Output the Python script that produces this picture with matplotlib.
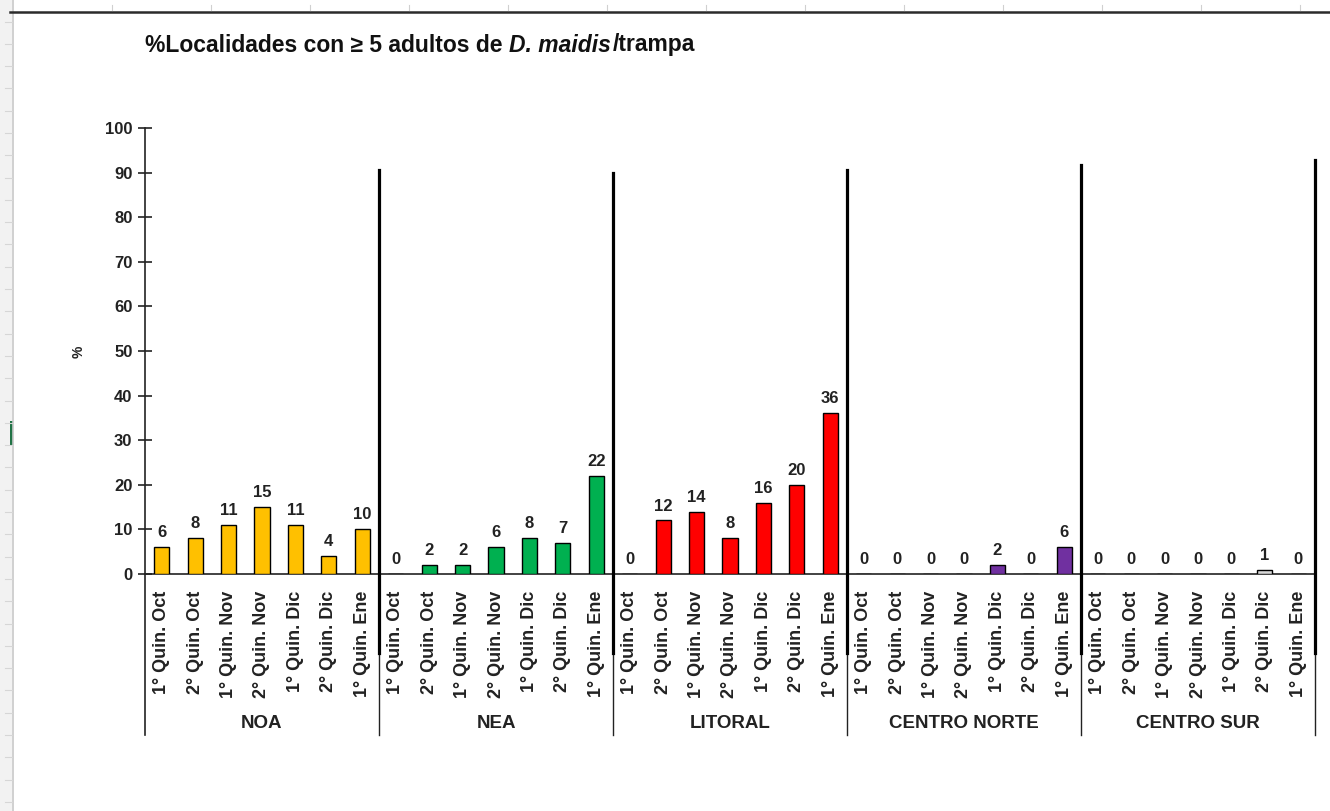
import numpy as np
import matplotlib
matplotlib.use("Agg")
import matplotlib.pyplot as plt
from matplotlib.lines import Line2D
from matplotlib.patches import Rectangle
import matplotlib.transforms as mtransforms

plt.rcParams['font.family'] = ['Liberation Sans', 'DejaVu Sans']

# ---------------- data ----------------
regions = ["NOA", "NEA", "LITORAL", "CENTRO NORTE", "CENTRO SUR"]
periods = ["1° Quin. Oct", "2° Quin. Oct", "1° Quin. Nov", "2° Quin. Nov",
           "1° Quin. Dic", "2° Quin. Dic", "1° Quin. Ene"]
noa = [6, 8, 11, 15, 11, 4, 10]
nea = [0, 2, 2, 6, 8, 7, 22]
litoral = [0, 12, 14, 8, 16, 20, 36]
centro_norte = [0, 0, 0, 0, 2, 0, 6]
centro_sur = [0, 0, 0, 0, 0, 1, 0]
region_colors = ["#FFC000", "#00B050", "#FF0000", "#7030A0", "#D9D9D9"]
separator_tops = [90.6, 89.9, 90.6, 91.7, 92.8]

series = [noa, nea, litoral, centro_norte, centro_sur]

W, H = 1330, 811
fig = plt.figure(figsize=(W / 100, H / 100), dpi=100)
fig.patch.set_facecolor("white")

# ---------- spreadsheet background remnants ----------
bg = fig.add_axes([0, 0, 1, 1], zorder=-10)
bg.set_xlim(0, W)
bg.set_ylim(H, 0)
bg.axis("off")
bg.add_patch(Rectangle((0, 0), 12, H, color="#F2F2F2", lw=0))
bg.plot([12.5, 12.5], [0, H], color="#C8C8C8", lw=1.2)
for yy in np.arange(21.5, H, 22.3):
    bg.plot([5, 12], [yy, yy], color="#D6D6D6", lw=0.8)
bg.add_patch(Rectangle((10, 421), 3, 24, color="#217346", lw=0))
bg.plot([10, W], [11.5, 11.5], color="#2B2B2B", lw=1.8)
for xx in np.arange(112, W, 99):
    bg.plot([xx, xx], [5, 10], color="#D0D0D0", lw=0.8)

# ---------- main axes ----------
left_px, right_px, top_px, bot_px = 145, 1315, 128, 574
ax = fig.add_axes([left_px / W, 1 - bot_px / H,
                   (right_px - left_px) / W, (bot_px - top_px) / H])
n_per = len(periods)
n_tot = n_per * len(regions)
ax.set_xlim(-0.5, n_tot - 0.5)
ax.set_ylim(0, 100)

x_all = np.arange(n_tot)
vals_all = []
cols_all = []
for vals, c in zip(series, region_colors):
    vals_all += vals
    cols_all += [c] * len(vals)

ax.bar(x_all, vals_all, width=0.45, color=cols_all, edgecolor="black", linewidth=1.0, zorder=3)
for x, v in zip(x_all, vals_all):
    ax.annotate(f"{v:g}", (x, v), xytext=(0, 5), textcoords="offset points",
                ha="center", va="bottom", fontsize=12, fontweight="bold", color="#222222")

for s in ["top", "right"]:
    ax.spines[s].set_visible(False)
ax.spines["left"].set_linewidth(1.2)
ax.spines["bottom"].set_linewidth(1.2)
ax.spines["left"].set_color("#222222")
ax.spines["bottom"].set_color("#222222")

ax.set_yticks(np.arange(0, 101, 10))
ax.tick_params(axis="y", direction="inout", length=10, width=1.2, labelsize=12, pad=4, colors="#222222")
for lb in ax.get_yticklabels():
    lb.set_fontweight("bold")

ax.set_xticks(x_all)
ax.set_xticklabels(periods * len(regions), rotation=90, fontsize=13, fontweight="bold", color="#222222")
ax.tick_params(axis="x", length=0, pad=12)

ax.set_ylabel("%", fontsize=10, fontweight="bold", color="#222222")
ax.yaxis.set_label_coords((86 - left_px) / (right_px - left_px), (bot_px - 352) / (bot_px - top_px))

trans = mtransforms.blended_transform_factory(ax.transData, ax.transAxes)
# thin category-group dividers
y_low = -(735 - bot_px) / (bot_px - top_px)
ax.add_line(Line2D([-0.5, -0.5], [y_low, 0], transform=trans, color="#222222", lw=1.2, clip_on=False))
for i in range(len(regions)):
    xb = (i + 1) * n_per - 0.5
    ax.add_line(Line2D([xb, xb], [y_low, 0], transform=trans, color="#222222", lw=1.0, clip_on=False))
    # thick separator drawn over the chart
    y_thick_bottom = -(653 - bot_px) / (bot_px - top_px) * 100
    ax.add_line(Line2D([xb, xb], [y_thick_bottom, separator_tops[i]], color="black",
                       lw=2.3, clip_on=False, zorder=5))
    ax.text(i * n_per + (n_per - 1) / 2, -(723 - bot_px) / (bot_px - top_px), regions[i],
            transform=trans, ha="center", va="center", fontsize=13.5, fontweight="bold", color="#222222")

# ---------- title with italic species name ----------
fig.canvas.draw()
renderer = fig.canvas.get_renderer()
parts = [("%Localidades con ≥ 5 adultos de ", "normal", 0), ("D. maidis", "italic", 2.5), ("/trampa", "normal", 0)]
xpos = 145
for txt, style, gap in parts:
    t = fig.text(xpos / W, 1 - 45 / H, txt, fontsize=16.5, fontweight="bold", fontstyle=style,
                 ha="left", va="center", color="#111111")
    bb = t.get_window_extent(renderer=renderer)
    xpos += bb.width + gap

fig.savefig("out.png", dpi=100, facecolor="white")
